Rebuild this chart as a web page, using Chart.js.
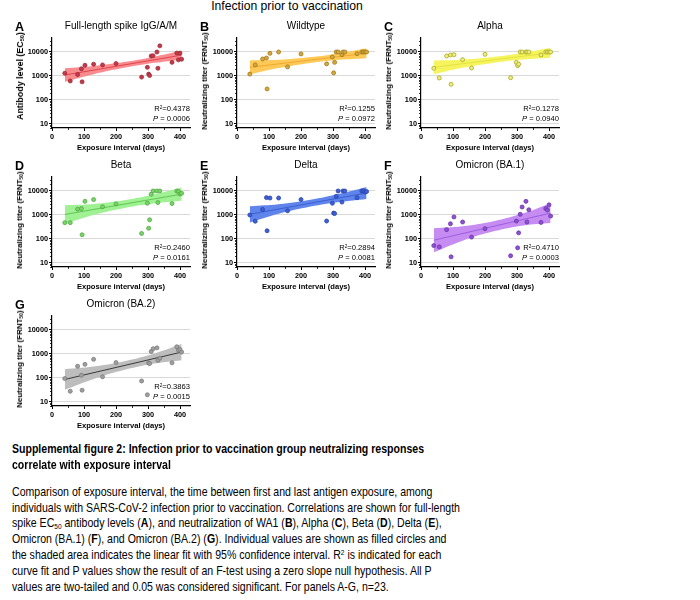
<!DOCTYPE html>
<html><head><meta charset="utf-8">
<script src="https://cdn.jsdelivr.net/npm/chart.js@4.4.0/dist/chart.umd.min.js"></script>
<style>
html,body{margin:0;padding:0;background:#fff;}
body{width:700px;height:600px;overflow:hidden;position:relative;font-family:"Liberation Sans",Arial,sans-serif;color:#000;}
.abs{position:absolute;white-space:nowrap;}
canvas{position:absolute;}
.sub{font-size:0.62em;vertical-align:-0.2em;line-height:0;}
.sup{font-size:0.62em;vertical-align:0.45em;line-height:0;}
.cap{position:absolute;left:12px;white-space:nowrap;font-family:"Liberation Sans Narrow","Liberation Sans",Arial,sans-serif;font-size:13px;line-height:16px;transform-origin:0 50%;}
</style></head><body>
<script>
// ---------- data ----------
const days = [40, 57, 80, 92, 94, 103, 130, 158, 200, 280, 298, 302, 305, 310, 316, 328, 331, 337, 375, 390, 395, 400, 405];

const spikeIgG = [1300, 620, 1150, 2000, 570, 2800, 3100, 2900, 3300, 900, 2300, 1200, 1050, 6800, 7000, 10000, 2100, 18000, 3700, 9000, 4700, 9000, 5000];
const wildtype = [1200, 2900, 5100, 5600, 290, 8800, 10000, 2400, 8300, 3200, 6200, 1350, 3700, 10000, 10000, 7700, 10000, 10000, 8500, 10000, 10000, 10000, 10000];
const alpha    = [2100, 830, 6800, 7500, 450, 7700, 4800, 2150, 8000, 850, 3700, 2700, 3100, 10000, 10000, 10000, 10000, 10000, 7500, 10000, 10000, 10000, 10000];
const beta     = [480, 480, 1750, 1850, 150, 3700, 4400, 2200, 2900, 170, 3100, 280, 630, 7300, 10000, 10000, 3300, 10000, 3000, 10000, 9500, 7500, 8000];
const delta    = [1000, 550, 1700, 5300, 220, 5100, 5100, 1500, 4400, 560, 3100, 1200, 1150, 6000, 10000, 3450, 10000, 10000, 5200, 10000, 10000, 9000, 9500];
const ba1      = [53, 47, 245, 430, 18, 830, 510, 120, 270, 20, 560, 43, 180, 1070, 2150, 3700, 510, 1650, 490, 1850, 1600, 2650, 900];
const ba2      = [95, 28, 310, 130, 31, 370, 600, 113, 440, 75, 20, 420, 400, 1270, 1650, 1800, 540, 670, 430, 2000, 1450, 1550, 1200];

// linear fit at its two ends
const fitX = [40, 405];
const fitSpike = [1100, 7400];
const fitWT    = [2290, 8900];
const fitAlpha = [2300, 9300];
const fitBeta  = [1050, 7400];
const fitDelta = [1070, 8300];
const fitBA1   = [89, 1200];
const fitBA2   = [87, 1200];

// 95% confidence band edges
const bandX = [40, 130, 230, 320, 405];
const upSpike = [2090, 2600, 3900, 6400, 11200];
const loSpike = [575, 1190, 2250, 3530, 4900];
const upWT    = [4470, 4730, 6120, 8950, 14450];
const loWT    = [1175, 2160, 3520, 4700, 5500];
const upAlpha = [4470, 4790, 6270, 9290, 15100];
const loAlpha = [1175, 2190, 3600, 4880, 5750];
const upBeta  = [2570, 2880, 4190, 7280, 14100];
const loBeta  = [427, 1000, 2010, 3030, 3890];
const upDelta = [2340, 2810, 4300, 7640, 14800];
const loDelta = [490, 1120, 2250, 3490, 4680];
const upBA1   = [282, 338, 560, 1170, 3090];
const loBA1   = [28, 85, 213, 369, 468];
const upBA2   = [234, 303, 516, 1060, 2630];
const loBA2   = [32, 91, 225, 403, 550];

const letters = ['A', 'B', 'C', 'D', 'E', 'F', 'G'];
const titles = ['Full-length spike IgG/A/M', 'Wildtype', 'Alpha', 'Beta', 'Delta', 'Omicron (BA.1)', 'Omicron (BA.2)'];
const r2Labels = ['0.4378', '0.1255', '0.1278', '0.2460', '0.2894', '0.4710', '0.3863'];
const pLabels  = ['0.0006', '0.0972', '0.0940', '0.0161', '0.0081', '0.0003', '0.0015'];
const xTicks = [0, 100, 200, 300, 400];
const yTicks = [10, 100, 1000, 10000];
const xTitle = 'Exposure interval (days)';
const mainTitle = 'Infection prior to vaccination';

// ---------- styling / layout ----------
const FONT = '"Liberation Sans", Arial, sans-serif';
const colX = [52, 237, 421];
const rowY = [52, 191, 330];
const styles = [
  {band:'#F98A8E', pt:'#C23B4B', pb:'#9E2838', line:'#E0454F'},
  {band:'#FFC957', pt:'#D6A83C', pb:'#A07818', line:'#F0A830'},
  {band:'#F6F45E', pt:'#EDED80', pb:'#A8A820', line:'#E3E340'},
  {band:'#A0F094', pt:'#7AD46A', pb:'#4FA83F', line:'#60C850'},
  {band:'#5F85EC', pt:'#3E5FD6', pb:'#2A44A8', line:'#3A5FD0'},
  {band:'#C78CF2', pt:'#8C52D2', pb:'#6A34A8', line:'#9B5EE0'},
  {band:'#BDBDBD', pt:'#A0A0A0', pb:'#7A7A7A', line:'#3A3A3A'}
];
const NT = 'Neutralizing titer (FRNT<span class="sub">50</span>)';
const panels = [
  {col:0,row:0, vals:spikeIgG, fit:fitSpike, up:upSpike, lo:loSpike, yt:'Antibody level (EC<span class="sub">50</span>)', ytLen:88, ytC:24},
  {col:1,row:0, vals:wildtype, fit:fitWT, up:upWT, lo:loWT, yt:NT, ytLen:98, ytC:29},
  {col:2,row:0, vals:alpha, fit:fitAlpha, up:upAlpha, lo:loAlpha, yt:NT, ytLen:98, ytC:29},
  {col:0,row:1, vals:beta, fit:fitBeta, up:upBeta, lo:loBeta, yt:NT, ytLen:98, ytC:29},
  {col:1,row:1, vals:delta, fit:fitDelta, up:upDelta, lo:loDelta, yt:NT, ytLen:98, ytC:29},
  {col:2,row:1, vals:ba1, fit:fitBA1, up:upBA1, lo:loBA1, yt:NT, ytLen:98, ytC:29},
  {col:0,row:2, vals:ba2, fit:fitBA2, up:upBA2, lo:loBA2, yt:NT, ytLen:98, ytC:29}
];

const xMinor = [50, 150, 250, 350];
const yMinor = [];
[1, 10, 100, 1000, 10000].forEach(d => { for (let m = 2; m <= 9; m++) yMinor.push(m * d); });

const minorTicks = {
  id: 'minorTicks',
  afterDraw(chart) {
    const {ctx} = chart; const xs = chart.scales.x, ys = chart.scales.y;
    ctx.save(); ctx.strokeStyle = '#000'; ctx.lineWidth = 0.8; ctx.beginPath();
    xMinor.forEach(v => { const px = Math.round(xs.getPixelForValue(v)) + 0.5; ctx.moveTo(px, ys.bottom); ctx.lineTo(px, ys.bottom + 2); });
    yMinor.forEach(v => { if (v < ys.min || v > ys.max) return; const py = Math.round(ys.getPixelForValue(v)) + 0.5; ctx.moveTo(xs.left, py); ctx.lineTo(xs.left - 2, py); });
    ctx.stroke(); ctx.restore();
  }
};

function addDiv(html, css) {
  const d = document.createElement('div');
  d.className = 'abs'; d.innerHTML = html; Object.assign(d.style, css);
  document.body.appendChild(d); return d;
}

addDiv(mainTitle, {left:'87px', width:'400px', textAlign:'center', top:'0px', fontSize:'12.2px', lineHeight:'12px'});

panels.forEach((pn, i) => {
  const st = styles[i];
  const caL = colX[pn.col], ry = rowY[pn.row];
  const caT = ry - 14;
  const cv = document.createElement('canvas');
  cv.width = 185; cv.height = 130;
  cv.style.left = (caL - 37) + 'px'; cv.style.top = (caT - 16) + 'px';
  cv.style.width = '185px'; cv.style.height = '130px';
  document.body.appendChild(cv);

  new Chart(cv, {
    type: 'scatter',
    data: { datasets: [
      {type:'scatter', data: days.map((d, k) => ({x:d, y:pn.vals[k]})), pointRadius:2, pointHoverRadius:2,
       backgroundColor: st.pt, borderColor: st.pb, borderWidth: 0.8, order: 0},
      {type:'line', data: fitX.map((x, k) => ({x, y:pn.fit[k]})), borderColor: st.line, borderWidth: 1, pointRadius: 0, fill: false, order: 1},
      {type:'line', data: bandX.map((x, k) => ({x, y:pn.up[k]})), borderWidth: 0, borderColor:'rgba(0,0,0,0)', pointRadius: 0, fill: '+1', backgroundColor: st.band, tension: 0.4, order: 2},
      {type:'line', data: bandX.map((x, k) => ({x, y:pn.lo[k]})), borderWidth: 0, borderColor:'rgba(0,0,0,0)', pointRadius: 0, fill: false, tension: 0.4, order: 3}
    ]},
    options: {
      responsive: false, animation: false, devicePixelRatio: 1,
      layout: {padding: {left: 0, top: 16, right: 10, bottom: 0}},
      plugins: {legend: {display: false}, tooltip: {enabled: false}, title: {display: false}},
      scales: {
        x: {type: 'linear', min: 0, max: 431.25,
            afterBuildTicks: s => { s.ticks = xTicks.map(v => ({value: v})); },
            afterFit: s => { s.height = 24; },
            ticks: {color: '#000', font: {family: FONT, size: 7.3, weight: 'bold'}, padding: 2, maxRotation: 0, autoSkip: false},
            grid: {drawOnChartArea: false, tickLength: 3, tickColor: '#000', tickWidth: 1},
            border: {color: '#000', width: 1.2},
            title: {display: true, text: xTitle, color: '#000', padding: 0, font: {family: FONT, size: 7.6, weight: 'bold'}}},
        y: {type: 'logarithmic', min: 6.81, max: 38300,
            afterBuildTicks: s => { s.ticks = yTicks.map(v => ({value: v})); },
            afterFit: s => { s.width = 37; },
            ticks: {color: '#000', font: {family: FONT, size: 7.3, weight: 'bold'}, padding: 1, autoSkip: false, callback: v => String(v)},
            grid: {color: '#d9d9d9', lineWidth: 1, tickLength: 3, tickColor: '#000', tickWidth: 1},
            border: {color: '#000', width: 1.2}}
      }
    },
    plugins: [minorTicks]
  });

  addDiv(letters[i], {left:(caL - 37) + 'px', top:(ry - 32) + 'px', fontSize:'12.5px', lineHeight:'14px', fontWeight:'bold'});
  addDiv(titles[i], {left:(caL - 61) + 'px', width:'260px', textAlign:'center', top:(ry - 32) + 'px', fontSize:'10px', lineHeight:'12px'});
  const yd = addDiv(pn.yt, {left:(caL - 32) + 'px', top:(ry + pn.ytC) + 'px', fontSize:'8px', lineHeight:'10px', fontWeight:'bold', transform:'translate(-50%,-50%) rotate(-90deg)'});
  yd.style.fontSize = (8 * pn.ytLen / yd.offsetWidth) + 'px';
  addDiv('R<span class="sup">2</span>=' + r2Labels[i], {left:(caL + 38) + 'px', width:'100px', textAlign:'right', top:(ry + 51.5) + 'px', fontSize:'7.6px', lineHeight:'10px'});
  addDiv('<i>P</i> = ' + pLabels[i], {left:(caL + 38) + 'px', width:'100px', textAlign:'right', top:(ry + 61.5) + 'px', fontSize:'7.6px', lineHeight:'10px'});
});

// ---------- caption ----------
const headLines = [
  'Supplemental figure 2: Infection prior to vaccination group neutralizing responses',
  'correlate with exposure interval'
];
const bodyLines = [
  'Comparison of exposure interval, the time between first and last antigen exposure, among',
  'individuals with SARS-CoV-2 infection prior to vaccination. Correlations are shown for full-length',
  'spike EC<span class="sub">50</span> antibody levels (<b>A</b>), and neutralization of WA1 (<b>B</b>), Alpha (<b>C</b>), Beta (<b>D</b>), Delta (<b>E</b>),',
  'Omicron (BA.1) (<b>F</b>), and Omicron (BA.2) (<b>G</b>). Individual values are shown as filled circles and',
  'the shaded area indicates the linear fit with 95% confidence interval. R<span class="sup">2</span> is indicated for each',
  'curve fit and P values show the result of an F-test using a zero slope null hypothesis. All P',
  'values are two-tailed and 0.05 was considered significant. For panels A-G, n=23.'
];
const headEls = headLines.map((t, k) => { const d = document.createElement('div'); d.className = 'cap'; d.style.fontWeight = 'bold'; d.style.top = (441 + k * 16) + 'px'; d.innerHTML = t; document.body.appendChild(d); return d; });
const bodyEls = bodyLines.map((t, k) => { const d = document.createElement('div'); d.className = 'cap'; d.style.top = (483.7 + k * 15.83) + 'px'; d.innerHTML = t; document.body.appendChild(d); return d; });
const hs = 412 / headEls[0].getBoundingClientRect().width;
headEls.forEach(d => d.style.transform = 'scaleX(' + hs + ')');
const bs = 448 / bodyEls[1].getBoundingClientRect().width;
bodyEls.forEach(d => d.style.transform = 'scaleX(' + bs + ')');
</script>
</body></html>
